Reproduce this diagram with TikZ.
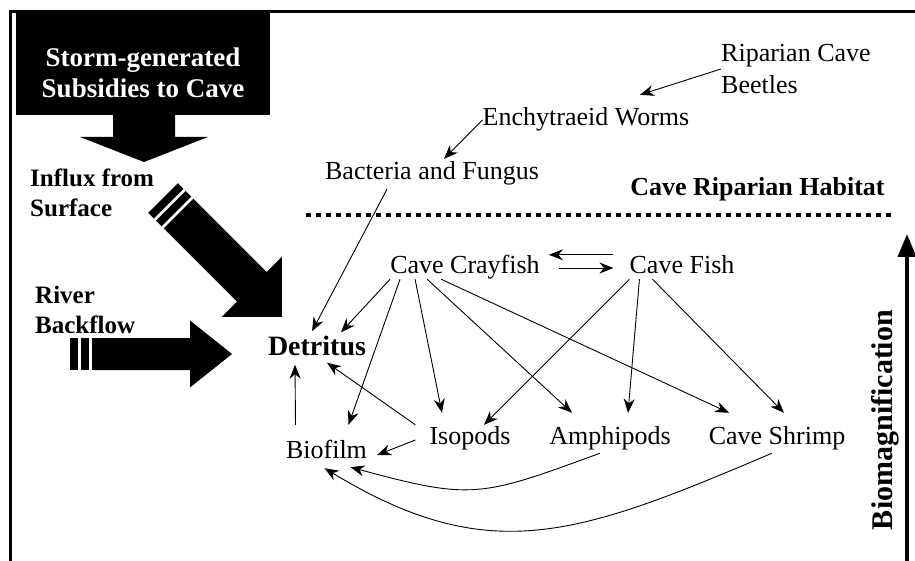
\documentclass[tikz,border=0pt]{standalone}
\usepackage{fontspec}
\setmainfont{Liberation Serif}
\usetikzlibrary{arrows.meta}

\begin{document}
\begin{tikzpicture}[x=1pt, y=-1pt,
    every node/.style={inner sep=0pt},
    lbl/.style={font=\fontsize{26}{31}\selectfont, text height=18pt, text depth=6pt},
    side/.style={font=\bfseries\fontsize{25}{30}\selectfont, align=left, anchor=west},
    link/.style={line width=0.9pt, -{Stealth[length=14pt,width=11pt]}}]
	\useasboundingbox (0,0) rectangle (915,561);

	% Frame
	\draw[line width=3pt] (10.5,561) -- (10.5,12) -- (915,12);

	% Storm subsidies
	\node[fill=black, minimum width=254pt, minimum height=102pt] (storm) at (143,64) {};
	\node[font=\bfseries\fontsize{27}{31}\selectfont, text=white, align=center] (stormtxt) at (143,73) {Storm-generated\\Subsidies to Cave};
	\fill (113,114) -- (175,114) -- (175,137) -- (208,137) -- (144,162) -- (80,137) -- (113,137) -- cycle;

	% Influx from surface
	\node[side] (influx) at (30,193) {Influx from\\Surface};
	\begin{scope}[shift={(163,198)}, rotate=-45]
		\fill (0,-21) -- (8,-21) -- (8,21) -- (0,21) -- cycle;
		\fill (11,-21) -- (19,-21) -- (19,21) -- (11,21) -- cycle;
		\fill (22,-21) -- (125.6,-21) -- (125.6,-42.4) -- (168,0) -- (125.6,42.4) -- (125.6,21) -- (22,21) -- cycle;
	\end{scope}

	% River backflow
	\node[side] (river) at (35,310) {River\\Backflow};
	\fill (70,338) -- (78,338) -- (78,370) -- (70,370) -- cycle;
	\fill (80.5,338) -- (89,338) -- (89,370) -- (80.5,370) -- cycle;
	\fill (92,338) -- (190,338) -- (190,320.5) -- (232,354) -- (190,387.5) -- (190,370) -- (92,370) -- cycle;

	% Riparian habitat
	\node[font=\fontsize{26}{32}\selectfont, align=left, anchor=west] (ripa) at (721,69) {Riparian Cave\\Beetles};
	\node[lbl] (ench) at (586,120) {Enchytraeid Worms};
	\node[lbl] (bact) at (432,174) {Bacteria and Fungus};
	\node[font=\bfseries\fontsize{26}{30}\selectfont] (habit) at (757.5,189) {Cave Riparian Habitat};
	\draw[line width=4.5pt, dash pattern=on 5pt off 5pt] (306,215) -- (891,215);

	% Aquatic food web
	\node[lbl] (cray) at (465,267) {Cave Crayfish};
	\node[lbl] (fish) at (682,267) {Cave Fish};
	\node[font=\bfseries\fontsize{28}{32}\selectfont, text height=19pt, text depth=6pt] (detr) at (317,349) {Detritus};
	\node[lbl] (iso) at (470,438) {Isopods};
	\node[lbl] (amph) at (610,438) {Amphipods};
	\node[lbl] (shri) at (777,438) {Cave Shrimp};
	\node[lbl] (biof) at (326.5,452) {Biofilm};

	% Biomagnification
	\node[font=\bfseries\fontsize{30}{34}\selectfont, rotate=90] (biomag) at (885,420) {Biomagnification};
	\coordinate (magbot) at (907,561);
	\coordinate (magtop) at (907,234);
	\draw[line width=4pt, -{Triangle[length=23pt,width=18pt]}] (magbot) -- (magtop);

	% Riparian links
	\draw[link] (ripa.west) -- ([shift={(54,-13)}]ench.north);
	\draw[link] (ench.west) -- ([shift={(12,-3)}]bact.north);
	\draw[link] ([shift={(-45,3)}]bact.south) -- ([shift={(-5,-5)}]detr.north);

	% Crayfish and fish
	\draw[link] ([shift={(-16,0)}]fish.north west) -- ([shift={(9,0)}]cray.north east);
	\draw[link] ([shift={(19,1)}]cray.east) -- ([shift={(-16,1)}]fish.west);
	\draw[link] (cray.south west) -- ([shift={(24,-4)}]detr.north);
	\draw[link] ([shift={(10,0)}]cray.south west) -- ([shift={(22,-15)}]biof.north);
	\draw[link] ([shift={(25,0)}]cray.south west) -- ([shift={(-28,-13)}]iso.north);
	\draw[link] ([shift={(37,0)}]cray.south west) -- ([shift={(-38,-13)}]amph.north);
	\draw[link] ([shift={(51,0)}]cray.south west) -- ([shift={(-48,-13)}]shri.north);
	\draw[link] (fish.south west) -- ([shift={(14,-1)}]iso.north);
	\draw[link] ([shift={(10,0)}]fish.south west) -- ([shift={(18,-13)}]amph.north);
	\draw[link] ([shift={(23,0)}]fish.south west) -- ([shift={(7,-13)}]shri.north);

	% Bottom level
	\draw[link] ([shift={(-14,-1)}]iso.north west) -- ([shift={(10,1)}]detr.south);
	\draw[link] ([shift={(-14,2)}]iso.west) -- ([shift={(10,3)}]biof.east);
	\draw[link] ([shift={(-31,-15)}]biof.north) -- ([shift={(-22,3)}]detr.south);
	\draw[link] ([shift={(-10,3)}]amph.south) .. controls +(-120,44) and +(122,33) .. ([shift={(24,3)}]biof.south);
	\draw[link] ([shift={(-5,3)}]shri.south) .. controls +(-195,83) and +(165,100) .. ([shift={(-2,4)}]biof.south);
\end{tikzpicture}
\end{document}
